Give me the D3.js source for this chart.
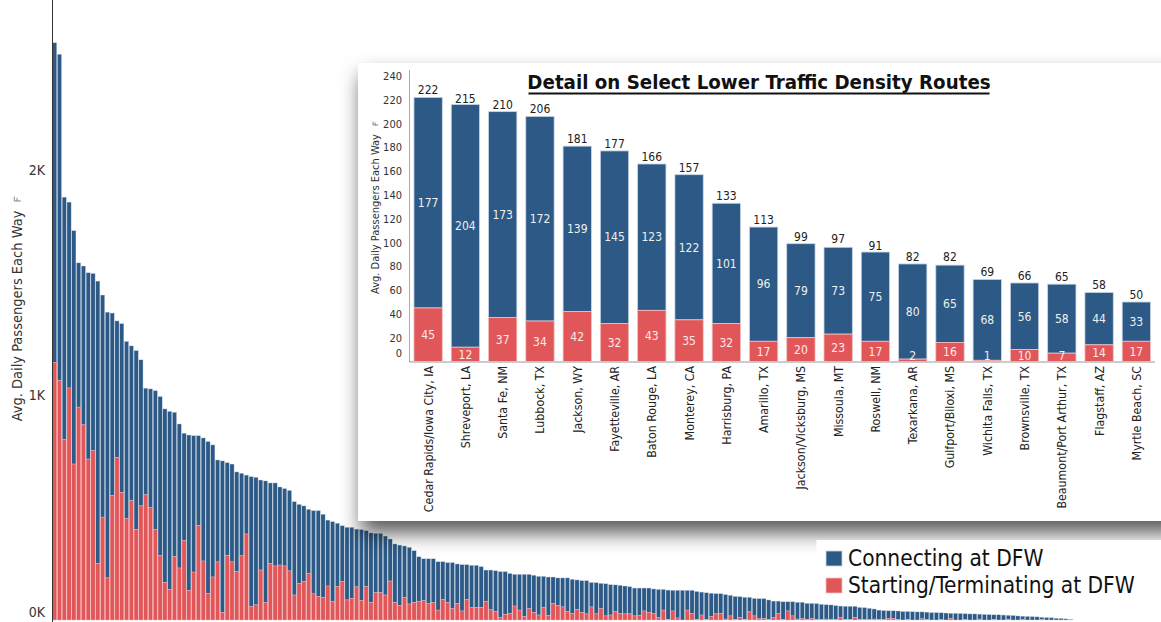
<!DOCTYPE html>
<html><head><meta charset="utf-8">
<script src="https://cdn.jsdelivr.net/npm/d3@7"></script>
<style>
html,body{margin:0;padding:0;background:#fff;overflow:hidden}
svg{display:block}
text{font-family:'DejaVu Sans Condensed','DejaVu Sans',sans-serif}
</style></head><body>
<svg id="chart" width="1161" height="622"></svg>
<script>
// All DFW routes, sorted by average daily passengers each way
const routeTotals = [
 2565,2514,1879,1857,1730,1587,1573,1543,1540,1506,1444,1368,1364,1329,1317,1238,1218,1197,1156,1030,
 1027,1019,993,938,927,923,871,830,822,819,819,809,793,778,711,707,699,693,658,652,
 644,637,634,622,618,609,609,591,584,576,526,514,507,492,486,486,470,444,437,430,
 419,412,412,404,402,397,387,385,385,373,360,338,333,329,323,308,281,272,272,272,
 259,259,255,255,249,246,246,243,243,237,222,222,219,215,215,207,203,203,203,203,
 199,194,194,191,191,187,187,187,181,178,175,175,167,166,163,161,157,156,154,151,
 148,142,142,142,142,138,136,136,133,132,132,132,132,132,127,124,121,119,117,117,
 113,110,105,104,101,101,96,95,95,89,84,84,81,81,81,79,79,74,74,73,
 70,68,67,64,62,61,61,61,56,55,52,49,44,42,41,41,40,38,38,37,
 36,36,35,33,33,32,31,30,30,29,28,27,27,26,25,24,23,23,22,21,
 20,18,17,16,15,14,12,11,10,8,7,5,3
];
// Portion of each route starting or terminating at DFW
const routeStarting = [
 1145,1064,803,1031,693,946,867,715,752,250,457,187,553,722,567,450,530,403,507,556,
 501,403,286,167,136,281,231,353,132,213,419,262,119,191,258,34,286,258,216,285,
 382,59,67,222,77,252,240,244,240,218,111,163,170,207,116,104,101,151,83,148,
 170,89,96,147,86,148,77,121,121,111,173,77,64,101,71,77,81,86,74,77,
 44,92,77,50,74,40,92,56,56,55,81,45,37,12,25,30,62,44,15,50,
 33,22,55,19,73,64,58,37,30,46,33,27,58,27,50,18,22,37,30,27,
 27,18,19,40,33,30,12,44,3,40,9,0,44,30,3,22,3,15,27,30,
 4,18,3,10,2,36,18,5,7,2,10,30,3,40,18,4,6,2,7,3,
 2,4,2,3,12,2,3,10,2,3,1,4,2,1,8,6,1,0,2,0,
 0,5,1,0,0,1,0,7,0,0,1,0,0,4,0,0,1,0,0,3,
 0,0,1,0,0,0,1,0,0,0,0,0,0
];

// Detail panel: selected lower traffic density routes
const detailCities = [
 "Cedar Rapids/Iowa City, IA","Shreveport, LA","Santa Fe, NM","Lubbock, TX","Jackson, WY",
 "Fayetteville, AR","Baton Rouge, LA","Monterey, CA","Harrisburg, PA","Amarillo, TX",
 "Jackson/Vicksburg, MS","Missoula, MT","Roswell, NM","Texarkana, AR","Gulfport/Biloxi, MS",
 "Wichita Falls, TX","Brownsville, TX","Beaumont/Port Arthur, TX","Flagstaff, AZ","Myrtle Beach, SC"
];
const detailTotals     = [222,215,210,206,181,177,166,157,133,113,99,97,91,82,82,69,66,65,58,50];
const detailConnecting = [177,204,173,172,139,145,123,122,101,96,79,73,75,80,65,68,56,58,44,33];
const detailStarting   = [45,12,37,34,42,32,43,35,32,17,20,23,17,2,16,1,10,7,14,17];

const mainTicks = [0, 1000, 2000];
const detailTicks = [0,20,40,60,80,100,120,140,160,180,200,220,240];
const legendLabels = ["Connecting at DFW", "Starting/Terminating at DFW"];
const titleText = "Detail on Select Lower Traffic Density Routes";
const axisTitle = "Avg. Daily Passengers Each Way";

const BLUE = "#2c5985", RED = "#e15759";
const W = 1161, H = 622;
const FONT = "'DejaVu Sans Condensed','DejaVu Sans',sans-serif";
const svg = d3.select("#chart");

const defs = svg.append("defs");
const sh = defs.append("filter").attr("id","panelShadow")
  .attr("x","-10%").attr("y","-10%").attr("width","130%").attr("height","140%");
sh.append("feDropShadow").attr("dx",3).attr("dy",12).attr("stdDeviation",10)
  .attr("flood-color","#000").attr("flood-opacity",0.65);

// sort indicator drawn after a rotated axis title
function sortIcon(g, x, s) {
  g.append("path")
    .attr("d", `M${x},${-7*s} L${x},${-1*s} M${x},${-7*s} L${x+4*s},${-7*s} M${x},${-4.5*s} L${x+3*s},${-4.5*s}`)
    .attr("stroke","#777").attr("stroke-width",0.9).attr("fill","none");
}

// ---------- main chart ----------
const x = d3.scaleBand().domain(d3.range(routeTotals.length))
  .range([52.5, 52.5 + routeTotals.length * 4.79]).paddingInner(0.13).paddingOuter(0.02);
const y = d3.scaleLinear().domain([0, 2755]).range([620, 0]);

const main = svg.append("g");
const bars = main.selectAll("g.route").data(routeTotals.map((t,i)=>({t, s: routeStarting[i], i})))
  .enter().append("g");
bars.append("rect")
  .attr("x", d=>x(d.i)).attr("width", x.bandwidth())
  .attr("y", d=>y(d.t)).attr("height", d=>y(d.s)-y(d.t))
  .attr("fill", BLUE).attr("stroke","#c9d6e4").attr("stroke-width",0.4);
bars.append("rect")
  .attr("x", d=>x(d.i)).attr("width", x.bandwidth())
  .attr("y", d=>y(d.s)).attr("height", d=>y(0)-y(d.s))
  .attr("fill", RED).attr("stroke","#f2b5b6").attr("stroke-width",0.4);

const yAxis = main.append("g").attr("transform","translate(48,0)")
  .call(d3.axisLeft(y).tickValues(mainTicks).tickSize(0).tickFormat(d=>(d/1000)+"K"));
yAxis.select(".domain").remove();
yAxis.selectAll("text").attr("font-size",14).attr("fill","#333")
  .style("font-family",FONT)
  .attr("dy", d => d===0 ? "-0.25em" : "0.32em");
main.append("line").attr("x1",52.5).attr("x2",52.5).attr("y1",0).attr("y2",H)
  .attr("stroke","#333").attr("stroke-width",1);
const mt = main.append("g").attr("transform","translate(22,316) rotate(-90)");
mt.append("text").attr("text-anchor","middle").attr("font-size",14.5).attr("fill","#333").text(axisTitle);
sortIcon(mt, 115, 1.1);

// ---------- detail panel ----------
const panel = svg.append("g");
panel.append("rect").attr("x",358).attr("y",63).attr("width",W-358+20).attr("height",521-63)
  .attr("fill","#fff").attr("filter","url(#panelShadow)");

const dx = d3.scaleBand().domain(detailCities).range([409.5,1155]).paddingInner(0.24).paddingOuter(0.12);
const dy = d3.scaleLinear().domain([0,245]).range([361.5,70]);

panel.append("text").attr("x",759).attr("y",89).attr("text-anchor","middle")
  .attr("font-size",20.3).attr("font-weight","bold").attr("fill","#111").text(titleText);
const tw = 461;
panel.append("line").attr("x1",759-tw/2).attr("x2",759+tw/2).attr("y1",93.5).attr("y2",93.5)
  .attr("stroke","#111").attr("stroke-width",2);

const dAxis = panel.append("g").attr("transform","translate(405,0)")
  .call(d3.axisLeft(dy).tickValues(detailTicks).tickSize(0));
dAxis.select(".domain").remove();
dAxis.selectAll("text").attr("font-size",11).attr("fill","#333")
  .style("font-family",FONT)
  .attr("dy", d => d===0 ? "-0.45em" : "0.32em");
panel.append("line").attr("x1",409.5).attr("x2",409.5).attr("y1",70).attr("y2",362)
  .attr("stroke","#aaa").attr("stroke-width",1);
panel.append("line").attr("x1",409.5).attr("x2",1155).attr("y1",362).attr("y2",362)
  .attr("stroke","#999").attr("stroke-width",1);

const dt = panel.append("g").attr("transform","translate(379,214) rotate(-90)");
dt.append("text").attr("text-anchor","middle").attr("font-size",11).attr("fill","#333").text(axisTitle);
sortIcon(dt, 89, 0.85);

const det = detailCities.map((c,i)=>({c, t: detailTotals[i], con: detailConnecting[i], s: detailStarting[i]}));
const dg = panel.selectAll("g.city").data(det).enter().append("g");
dg.append("rect").attr("x",d=>dx(d.c)).attr("width",dx.bandwidth())
  .attr("y",d=>dy(d.s+d.con)).attr("height",d=>dy(d.s)-dy(d.s+d.con))
  .attr("fill",BLUE).attr("stroke","#c9d6e4").attr("stroke-width",0.8);
dg.append("rect").attr("x",d=>dx(d.c)).attr("width",dx.bandwidth())
  .attr("y",d=>dy(d.s)).attr("height",d=>dy(0)-dy(d.s))
  .attr("fill",RED).attr("stroke","#f2c0c0").attr("stroke-width",0.8);
const cx = d => dx(d.c) + dx.bandwidth()/2;
dg.append("text").attr("x",cx).attr("y",d=>dy(d.t)-3).attr("text-anchor","middle")
  .attr("font-size",12).attr("fill","#222").text(d=>d.t);
dg.append("text").attr("x",cx).attr("y",d=>dy(d.s + d.con/2)).attr("dy","0.36em").attr("text-anchor","middle")
  .attr("font-size",12).attr("fill","#f0f0f0").text(d=>d.con);
dg.append("text").attr("x",cx).attr("y",d=>dy(Math.max(d.s/2,4.5))).attr("dy","0.36em").attr("text-anchor","middle")
  .attr("font-size",12).attr("fill","#fbeaea").text(d=>d.s);
dg.append("text").attr("transform",d=>`translate(${cx(d)+4.5},366) rotate(-90)`)
  .attr("text-anchor","end").attr("font-size",12.3).attr("fill","#222").text(d=>d.c);

// ---------- legend ----------
const lg = svg.append("g");
lg.append("rect").attr("x",816.5).attr("y",540).attr("width",W-816).attr("height",63).attr("fill","#fff");
legendLabels.forEach((lab,i)=>{
  lg.append("rect").attr("x",826).attr("y",551+i*27).attr("width",16).attr("height",15)
    .attr("fill", i===0?BLUE:RED).attr("stroke", i===0?"#c9d6e4":"#f2c0c0").attr("stroke-width",0.8);
  lg.append("text").attr("x",848).attr("y",566+i*27).attr("font-size",22.5).attr("fill","#111").text(lab);
});
</script>
</body></html>
